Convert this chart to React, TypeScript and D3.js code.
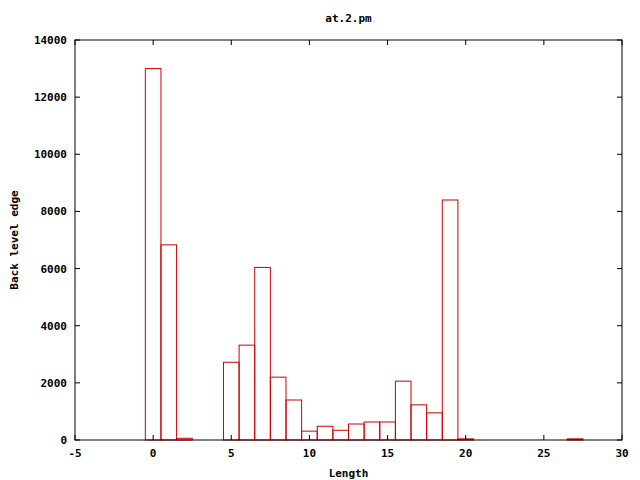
import React from "react";
import * as d3 from "d3";

const lengths = [0, 1, 2, 3, 4, 5, 6, 7, 8, 9, 10, 11, 12, 13, 14, 15, 16, 17, 18, 19, 20, 27];
const counts = [13000, 6830, 60, 0, 0, 2720, 3320, 6040, 2200, 1400, 310, 480, 340, 560, 630, 630, 2060, 1230, 950, 8400, 40, 40];
const xTicks = [-5, 0, 5, 10, 15, 20, 25, 30];
const yTicks = [0, 2000, 4000, 6000, 8000, 10000, 12000, 14000];
const title = "at.2.pm";
const xLabel = "Length";
const yLabel = "Back level edge";

export default function App() {
  const W = 640, H = 480;
  const left = 75, right = 622, top = 40, bottom = 440;
  const x = d3.scaleLinear().domain([-5, 30]).range([left, right]);
  const y = d3.scaleLinear().domain([0, 14000]).range([bottom, top]);
  const tick = 5;
  const font = "'DejaVu Sans Mono', monospace";
  const red = "#cc0000";
  const bars = lengths.map((l, i) => ({ l, c: counts[i] })).filter((d) => d.c > 0);
  return (
    <svg width={W} height={H} style={{ position: "absolute", left: 0, top: 0, background: "#fff" }}
      fontFamily={font} fontWeight="bold" fontSize={11}>
      <rect x={0} y={0} width={W} height={H} fill="#fff" />
      {bars.map((d) => (
        <rect key={d.l} x={x(d.l - 0.5)} y={y(d.c)} width={x(d.l + 0.5) - x(d.l - 0.5)}
          height={y(0) - y(d.c)} fill="none" stroke={red} strokeWidth={1} />
      ))}
      <rect x={left} y={top} width={right - left} height={bottom - top} fill="none" stroke="#000" strokeWidth={1} />
      {xTicks.map((t) => (
        <g key={"x" + t}>
          <line x1={x(t)} x2={x(t)} y1={bottom} y2={bottom - tick} stroke="#000" />
          <line x1={x(t)} x2={x(t)} y1={top} y2={top + tick} stroke="#000" />
          <text x={x(t)} y={bottom + 17} textAnchor="middle">{t}</text>
        </g>
      ))}
      {yTicks.map((t) => (
        <g key={"y" + t}>
          <line x1={left} x2={left + tick} y1={y(t)} y2={y(t)} stroke="#000" />
          <line x1={right} x2={right - tick} y1={y(t)} y2={y(t)} stroke="#000" />
          <text x={left - 8} y={y(t) + 4} textAnchor="end">{t}</text>
        </g>
      ))}
      <text x={(left + right) / 2} y={22} textAnchor="middle">{title}</text>
      <text x={(left + right) / 2} y={477} textAnchor="middle">{xLabel}</text>
      <text transform={`translate(18,${(top + bottom) / 2}) rotate(-90)`} textAnchor="middle">{yLabel}</text>
    </svg>
  );
}
